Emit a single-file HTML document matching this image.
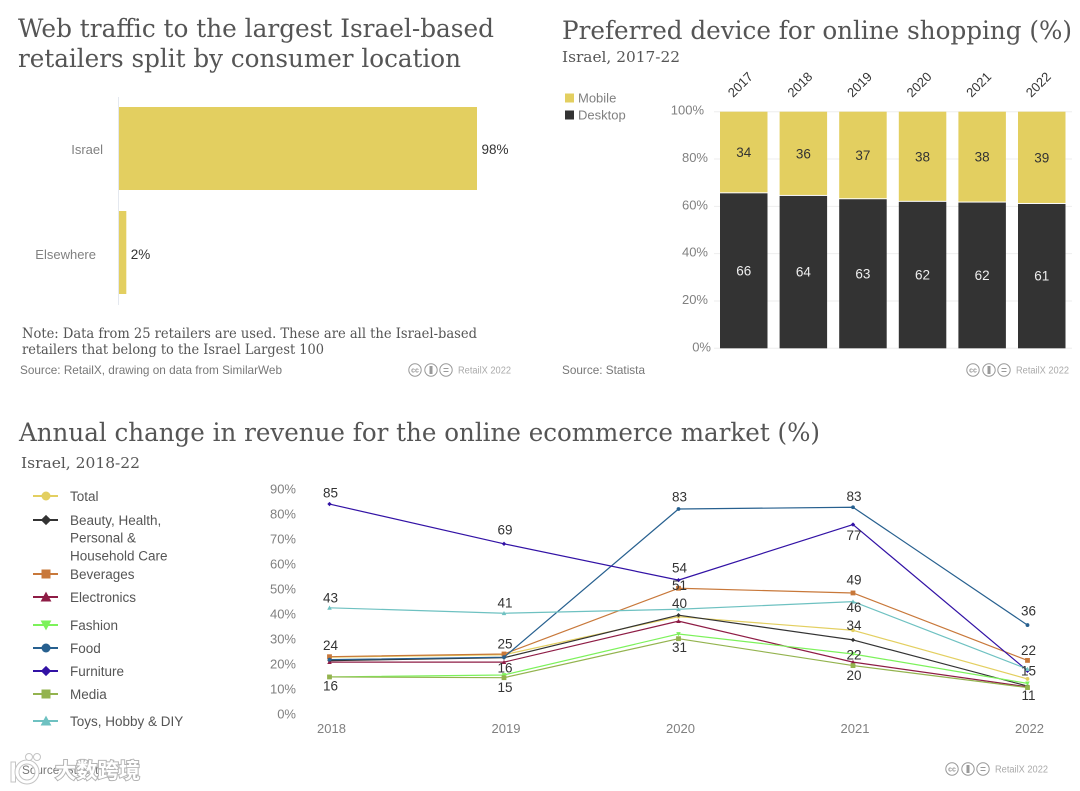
<!DOCTYPE html>
<html lang="en">
<head>
<meta charset="utf-8">
<title>Israel ecommerce charts</title>
<style>
html,body{margin:0;padding:0;background:#fff;}
svg{display:block;}
.serif{font-family:"DejaVu Serif","Liberation Serif",serif;fill:#555;}
.sans{font-family:"Liberation Sans",sans-serif;}
.axis{fill:#808080;font-size:13px;}
.val{fill:#333;font-size:13.5px;}
.src{fill:#777;font-size:12px;}
.lic{fill:#aaa;font-size:10px;}
.leg{fill:#555;font-size:13.5px;}
</style>
</head>
<body>
<svg id="root" width="1080" height="791" viewBox="0 0 1080 791" xmlns="http://www.w3.org/2000/svg">
<rect width="1080" height="791" fill="#fff"/>

<text class="serif" x="18" y="37" font-size="25" textLength="476" lengthAdjust="spacingAndGlyphs">Web traffic to the largest Israel-based</text>
<text class="serif" x="18" y="67" font-size="25" textLength="443" lengthAdjust="spacingAndGlyphs">retailers split by consumer location</text>
<g id="traffic"></g>
<text class="serif" x="22" y="338" font-size="14" textLength="455" lengthAdjust="spacingAndGlyphs">Note: Data from 25 retailers are used. These are all the Israel-based</text>
<text class="serif" x="22" y="354" font-size="14" textLength="302" lengthAdjust="spacingAndGlyphs">retailers that belong to the Israel Largest 100</text>
<text class="sans src" x="20" y="374" textLength="262" lengthAdjust="spacingAndGlyphs">Source: RetailX, drawing on data from SimilarWeb</text>

<text class="serif" x="562" y="39" font-size="25" textLength="510" lengthAdjust="spacingAndGlyphs">Preferred device for online shopping (%)</text>
<text class="serif" x="562" y="62" font-size="15" textLength="118" lengthAdjust="spacingAndGlyphs">Israel, 2017-22</text>
<g id="device"></g>
<text class="sans src" x="562" y="374" textLength="83" lengthAdjust="spacingAndGlyphs">Source: Statista</text>

<text class="serif" x="19" y="441" font-size="25" textLength="801" lengthAdjust="spacingAndGlyphs">Annual change in revenue for the online ecommerce market (%)</text>
<text class="serif" x="21" y="468" font-size="15" textLength="119" lengthAdjust="spacingAndGlyphs">Israel, 2018-22</text>
<g id="revenue"></g>
<text class="sans src" x="22" y="774" textLength="83" lengthAdjust="spacingAndGlyphs">Source: Statista</text>

<g id="licences"></g>

<g>
  <rect x="11" y="762" width="4.5" height="20" fill="#fff" stroke="#c4c4c4" stroke-width="1"/>
  <circle cx="27" cy="772" r="10" fill="none" stroke="#c4c4c4" stroke-width="5"/>
  <circle cx="27" cy="772" r="10" fill="none" stroke="#fff" stroke-width="3"/>
  <circle cx="29" cy="757" r="3.5" fill="#fff" stroke="#c4c4c4" stroke-width="1"/>
  <circle cx="37" cy="757" r="3.5" fill="#fff" stroke="#c4c4c4" stroke-width="1"/>
  <text x="55" y="778" font-family="'Liberation Sans','Noto Sans CJK SC',sans-serif" font-size="21" font-weight="700" fill="#fff" stroke="#b4b4b4" stroke-width="2" paint-order="stroke" textLength="85" lengthAdjust="spacingAndGlyphs">大数跨境</text>
</g>
</svg>

<script>
// ---- Traffic by consumer location ----
const trafficCategories = ['Israel', 'Elsewhere'];
const trafficShare = [98, 2];

// ---- Preferred device ----
const deviceYears = ['2017', '2018', '2019', '2020', '2021', '2022'];
const mobileShare = [34.5, 35.6, 37, 38.1, 38.4, 39];
const desktopShare = [65.5, 64.4, 63, 61.9, 61.6, 61];
const mobileLabels = ['34', '36', '37', '38', '38', '39'];
const desktopLabels = ['66', '64', '63', '62', '62', '61'];
const deviceTicks = [0, 20, 40, 60, 80, 100];

// ---- Revenue change ----
const revenueYears = ['2018', '2019', '2020', '2021', '2022'];
const revenueTicks = [0, 10, 20, 30, 40, 50, 60, 70, 80, 90];
const totalValues = [23, 24, 39.4, 33.9, 14.2];
const beautyValues = [21.6, 22.8, 40, 30, 11.3];
const beveragesValues = [23.2, 24.3, 50.9, 49, 21.7];
const electronicsValues = [21, 21, 37.6, 21, 11];
const fashionValues = [15, 15.8, 32.4, 24.3, 12.4];
const foodValues = [22, 23, 83, 83.7, 36];
const furnitureValues = [85, 68.9, 54.2, 76.7, 17.5];
const mediaValues = [15, 14.7, 30.5, 19.6, 10.7];
const toysValues = [43, 40.8, 42.4, 45.5, 18.2];

const NS = 'http://www.w3.org/2000/svg';
function make(parent, tag, props, text) {
  const el = document.createElementNS(NS, tag);
  for (const k in props) el.setAttribute(k, props[k]);
  if (text !== undefined) el.textContent = text;
  parent.appendChild(el);
  return el;
}

// Traffic chart
(function () {
  const g = document.getElementById('traffic');
  const x = v => 119 + v * 3.653;
  const y = i => 107 + i * 104;
  const axis = make(g, 'line', { x1: 118.5, x2: 118.5, y1: 97, y2: 305, stroke: '#e4e8ef', 'stroke-width': 1 });
  
  
  trafficCategories.forEach((c, i) => {
    const bar = make(g, 'rect', { x: x(0), y: y(i), width: x(trafficShare[i]) - x(0), height: 83, fill: '#E3CF60' });
    
    
    const lab = make(g, 'text', { x: i === 0 ? 103 : 96, y: y(i) + 47 + i, 'text-anchor': 'end', class: 'sans axis' }, c);
    
    
    const val = make(g, 'text', { x: x(trafficShare[i]) + 4.5, y: y(i) + 47 + i, class: 'sans val' }, trafficShare[i] + '%');
    
    
  });
})();

// Device chart
(function () {
  const g = document.getElementById('device');
  const y = v => 348.3 - v * 2.366;
  const x = i => 720 + i * 59.6;
  const w = 47.5;
  deviceTicks.forEach(t => {
    const gl = make(g, 'line', { x1: 714, x2: 1072, y1: y(t), y2: y(t), stroke: '#eeeeee', 'stroke-width': 1 });
    
    
    const tl = make(g, 'text', { x: t === 100 ? 704 : t === 0 ? 711 : 708, y: y(t) + 3, 'text-anchor': 'end', class: 'sans axis' }, t + '%');
    
    
  });
  deviceYears.forEach((yr, i) => {
    const d = make(g, 'rect', { x: x(i), y: y(desktopShare[i]), width: w, height: y(0) - y(desktopShare[i]), fill: '#333333' });
    
    
    const m = make(g, 'rect', { x: x(i), y: y(desktopShare[i] + mobileShare[i]), width: w, height: y(0) - y(mobileShare[i]) - 1, fill: '#E3CF60' });
    
    
    const mv = make(g, 'text', { x: x(i) + w / 2, y: y(desktopShare[i] + mobileShare[i] / 2) + 4.5, 'text-anchor': 'middle', class: 'sans val' }, mobileLabels[i]);
    
    
    const dv = make(g, 'text', { x: x(i) + w / 2, y: y(desktopShare[i] / 2) + 4.5, 'text-anchor': 'middle', class: 'sans', fill: '#eee', 'font-size': '13.5px' }, desktopLabels[i]);
    
    
    const yl = make(g, 'text', { transform: 'translate(' + (x(i) + w / 2 - 10.5) + ',98) rotate(-45)', class: 'sans', fill: '#333', 'font-size': '13px' }, yr);
    
    
  });
  const legend = [['Mobile', '#E3CF60', 98], ['Desktop', '#333333', 115]];
  legend.forEach(l => {
    const s = make(g, 'rect', { x: 565, y: l[2] - 4.5, width: 9, height: 9, fill: l[1] });
    
    
    const t = make(g, 'text', { x: 578, y: l[2] + 4.5, class: 'sans axis' }, l[0]);
    
    
  });
})();

// Revenue chart
const seriesNames = ['Total', 'Beauty, Health, Personal & Household Care', 'Beverages', 'Electronics', 'Fashion', 'Food', 'Furniture', 'Media', 'Toys, Hobby & DIY'];
const seriesValues = [totalValues, beautyValues, beveragesValues, electronicsValues, fashionValues, foodValues, furnitureValues, mediaValues, toysValues];
const seriesColors = ['#E3CF60', '#333333', '#C8783A', '#8E1C45', '#7CF25A', '#27608F', '#3212A5', '#93B34E', '#6EC1C1'];
const seriesShapes = ['circle', 'diamond', 'square', 'up', 'down', 'circle', 'diamond', 'square', 'up'];
const seriesSlugs = ['total', 'beauty', 'beverages', 'electronics', 'fashion', 'food', 'furniture', 'media', 'toys'];
// printed labels: series index, year index, text
const pointLabels = [
  [6, 0, '85'], [6, 1, '69'], [5, 2, '83'], [5, 3, '83'], [6, 2, '54'], [6, 3, '77'],
  [2, 2, '51'], [2, 3, '49'], [8, 0, '43'], [8, 1, '41'], [8, 2, '40'], [8, 3, '46'],
  [0, 3, '34'], [2, 0, '24'], [2, 1, '25'], [4, 3, '22'], [7, 0, '16'], [4, 1, '16'],
  [7, 1, '15'], [7, 2, '31'], [7, 3, '20'], [5, 4, '36'], [2, 4, '22'], [8, 4, '15'], [7, 4, '11']
];
// vertical offset of each printed label from its mark, parallel to pointLabels
const labelNudges = [-11, -14, -12, -11, -12, 11, -3, -13, -10, -10, -6, 6, -5, -11, -10, 1, 9, -7, 10, 9, 10, -14, -10, 2, 8];

(function () {
  const g = document.getElementById('revenue');
  const x = i => 329.5 + i * 174.5;
  const y = v => 714 - v * 2.47;
  const tickY = v => 714 - v * 2.5;

  revenueTicks.forEach(t => {
    const tl = make(g, 'text', { x: 296, y: tickY(t) + 4.5, 'text-anchor': 'end', class: 'sans axis' }, t + '%');
    
    
  });
  revenueYears.forEach((yr, i) => {
    const tl = make(g, 'text', { x: x(i) + 2, y: 733, 'text-anchor': 'middle', class: 'sans axis' }, yr);
    
    
  });

  function marker(parent, shape, cx, cy, r, color) {
    if (shape === 'circle') return make(parent, 'circle', { cx: cx, cy: cy, r: r, fill: color });
    if (shape === 'square') return make(parent, 'rect', { x: cx - r, y: cy - r, width: 2 * r, height: 2 * r, fill: color });
    let pts;
    if (shape === 'diamond') pts = [[cx, cy - r * 1.15], [cx + r * 1.15, cy], [cx, cy + r * 1.15], [cx - r * 1.15, cy]];
    if (shape === 'up') pts = [[cx, cy - r * 1.2], [cx + r * 1.2, cy + r], [cx - r * 1.2, cy + r]];
    if (shape === 'down') pts = [[cx, cy + r * 1.2], [cx + r * 1.2, cy - r], [cx - r * 1.2, cy - r]];
    return make(parent, 'polygon', { points: pts.map(p => p.join(',')).join(' '), fill: color });
  }

  seriesNames.forEach((name, s) => {
    const pts = seriesValues[s].map((v, i) => x(i) + ',' + y(v)).join(' ');
    const line = make(g, 'polyline', { points: pts, fill: 'none', stroke: seriesColors[s], 'stroke-width': 1.2, 'stroke-linejoin': 'round' });
    
    
    const small = seriesShapes[s] === 'square' ? 2.4 : 1.9;
    seriesValues[s].forEach((v, i) => {
      const m = marker(g, seriesShapes[s], x(i), y(v), small, seriesColors[s]);
      
      
    });
  });

  pointLabels.forEach((p, k) => {
    const t = make(g, 'text', { x: x(p[1]) + 1, y: y(seriesValues[p[0]][p[1]]) + labelNudges[k] + 4.5, 'text-anchor': 'middle', class: 'sans val' }, p[2]);
    
    
  });

  // Legend
  const legendRows = [496, 520, 574, 597, 625, 648, 671, 694, 721];
  const wrapped = { 1: ['Beauty, Health,', 'Personal &', 'Household Care'] };
  seriesNames.forEach((name, s) => {
    const cy = legendRows[s];
    const h = make(g, 'line', { x1: 33, x2: 58, y1: cy, y2: cy, stroke: seriesColors[s], 'stroke-width': 2 });
    
    
    const m = marker(g, seriesShapes[s], 46, cy, 4.5, seriesColors[s]);
    
    
    const lines = wrapped[s] || [name];
    lines.forEach((ln, j) => {
      const t = make(g, 'text', { x: 70, y: cy + 5 + j * 17.7, class: 'sans leg' }, ln);
      
      
    });
  });
})();

// Licence marks
(function () {
  const g = document.getElementById('licences');
  const spots = [[408, 370], [966, 370], [945, 769]];
  spots.forEach((p, n) => {
    [7, 23, 38].forEach((dx, k) => {
      const c = make(g, 'circle', { cx: p[0] + dx, cy: p[1], r: 6.2, fill: 'none', stroke: '#999', 'stroke-width': 1 });
      
      
    });
    const cc = make(g, 'text', { x: p[0] + 7, y: p[1] + 2.5, 'text-anchor': 'middle', class: 'sans', fill: '#999', 'font-size': '7px', 'font-weight': '700' }, 'cc');
    
    
    const body = make(g, 'rect', { x: p[0] + 21.5, y: p[1] - 4, width: 3, height: 8, fill: '#999' });
    
    
    [-1.5, 1.5].forEach(o => {
      const b = make(g, 'line', { x1: p[0] + 35.5, x2: p[0] + 40.5, y1: p[1] + o, y2: p[1] + o, stroke: '#999', 'stroke-width': 1 });
      
      
    });
    const t = make(g, 'text', { x: p[0] + 50, y: p[1] + 3.5, class: 'sans lic', textLength: 53, lengthAdjust: 'spacingAndGlyphs' }, 'RetailX 2022');
    
    
  });
})();
</script>
</body>
</html>
